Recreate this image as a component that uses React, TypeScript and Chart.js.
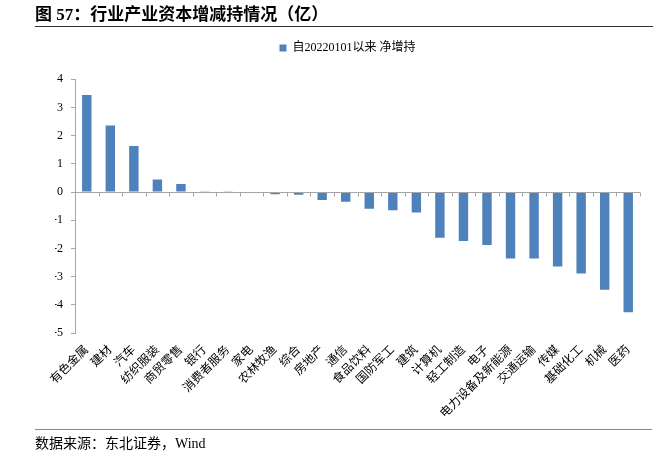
import React, { useEffect, useRef } from "react";
import { Chart, registerables } from "chart.js";

Chart.register(...registerables);

const categories: string[] = [
  "有色金属", "建材", "汽车", "纺织服装", "商贸零售", "银行", "消费者服务", "家电",
  "农林牧渔", "综合", "房地产", "通信", "食品饮料", "国防军工", "建筑", "计算机",
  "轻工制造", "电子", "电力设备及新能源", "交通运输", "传媒", "基础化工", "机械", "医药",
];

const netIncrease: number[] = [
  3.44, 2.36, 1.63, 0.44, 0.28, 0.01, 0.005, -0.03,
  -0.08, -0.1, -0.28, -0.35, -0.59, -0.65, -0.73, -1.62,
  -1.74, -1.88, -2.36, -2.36, -2.64, -2.89, -3.47, -4.26,
];

const seriesName = "自20220101以来 净增持";
const titleText = "图 57：行业产业资本增减持情况（亿）";
const sourceText = "数据来源：东北证券，Wind";
const yMin = -5;
const yMax = 4;

const FONT = "'Liberation Serif', 'Noto Sans CJK SC', serif";

const zeroAxisPlugin = {
  id: "zeroAxis",
  afterDatasetsDraw(chart: any) {
    const { ctx, chartArea, scales } = chart;
    const y0 = Math.round(scales.y.getPixelForValue(0)) + 0.5;
    const n = chart.data.labels.length;
    const step = (chartArea.right - chartArea.left) / n;
    ctx.save();
    ctx.strokeStyle = "#A6A6A6";
    ctx.lineWidth = 1;
    ctx.beginPath();
    ctx.moveTo(chartArea.left, y0);
    ctx.lineTo(chartArea.right, y0);
    for (let i = 0; i <= n; i++) {
      const px = Math.round(chartArea.left + i * step) + 0.5;
      ctx.moveTo(px, y0);
      ctx.lineTo(px, y0 + 4);
    }
    ctx.stroke();
    ctx.restore();
  },
};

export default function App() {
  const ref = useRef<HTMLCanvasElement | null>(null);

  useEffect(() => {
    document.body.style.margin = "0";
    const canvas = ref.current;
    if (!canvas) return;
    const chart = new Chart(canvas, {
      type: "bar",
      data: {
        labels: categories,
        datasets: [
          {
            label: seriesName,
            data: netIncrease,
            backgroundColor: "#4F81BD",
            borderWidth: 0,
            barPercentage: 0.4,
            categoryPercentage: 1,
          },
        ],
      },
      options: {
        responsive: false,
        animation: false,
        devicePixelRatio: 1,
        layout: { padding: { left: 55, right: 27, top: 36, bottom: 50 } },
        plugins: {
          legend: {
            display: true,
            position: "top",
            labels: {
              boxWidth: 7,
              boxHeight: 7,
              padding: 6,
              color: "#000",
              font: { family: FONT, size: 12 },
            },
          },
          title: {
            display: true,
            text: " ",
            position: "top",
            weight: 0,
            font: { size: 1 },
            padding: { top: 0, bottom: 14 },
          },
          tooltip: { enabled: false },
        },
        scales: {
          x: {
            grid: { display: false },
            border: { display: false },
            ticks: {
              autoSkip: false,
              maxRotation: 45,
              minRotation: 45,
              color: "#000",
              padding: 2,
              font: { family: FONT, size: 12 },
            },
            afterFit(scale: any) {
              scale.height = 90;
            },
          },
          y: {
            min: yMin,
            max: yMax,
            ticks: {
              stepSize: 1,
              color: "#000",
              padding: 8,
              font: { family: FONT, size: 12 },
            },
            grid: {
              display: true,
              drawOnChartArea: false,
              drawTicks: true,
              tickLength: 4,
              color: "#A6A6A6",
            },
            border: { display: true, color: "#A6A6A6" },
            afterFit(scale: any) {
              scale.width = 20;
            },
          },
        },
      },
      plugins: [zeroAxisPlugin],
    });
    return () => chart.destroy();
  }, []);

  return (
    <div style={{ position: "relative", width: 667, height: 473, background: "#fff" }}>
      <canvas
        ref={ref}
        width={667}
        height={473}
        style={{ position: "absolute", left: 0, top: 0, width: 667, height: 473 }}
      />
      <div
        style={{
          position: "absolute",
          left: 35,
          top: 5,
          fontFamily: FONT,
          fontWeight: "bold",
          fontSize: 17,
          lineHeight: "20px",
          color: "#000",
          whiteSpace: "pre",
        }}
      >
        {titleText}
      </div>
      <div
        style={{
          position: "absolute",
          left: 35,
          top: 26,
          width: 618,
          height: 0,
          borderTop: "1.5px solid #333",
        }}
      />
      <div
        style={{
          position: "absolute",
          left: 35,
          top: 429,
          width: 617,
          height: 0,
          borderTop: "1.5px solid #888",
        }}
      />
      <div
        style={{
          position: "absolute",
          left: 35,
          top: 435,
          fontFamily: FONT,
          fontSize: 14,
          lineHeight: "18px",
          color: "#000",
          whiteSpace: "pre",
        }}
      >
        {sourceText}
      </div>
    </div>
  );
}
